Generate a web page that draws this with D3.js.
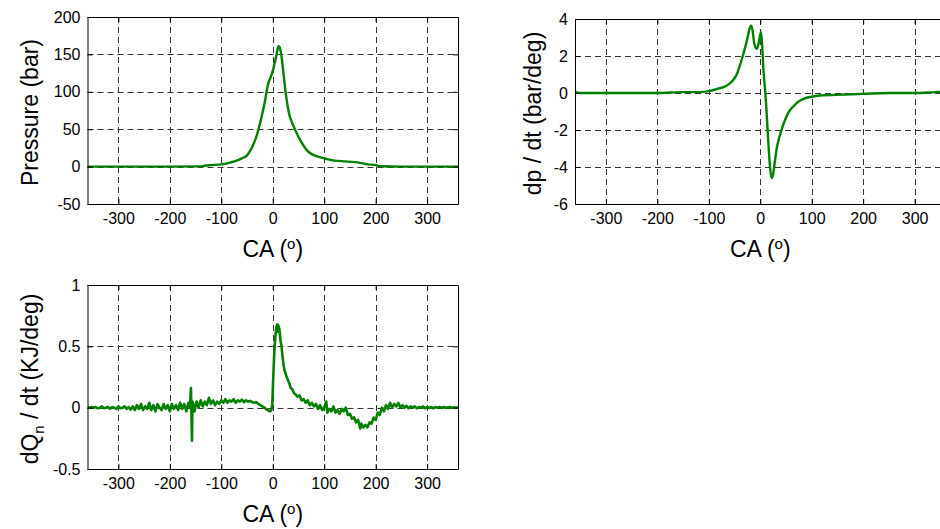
<!DOCTYPE html>
<html>
<head>
<meta charset="utf-8">
<script src="https://cdn.jsdelivr.net/npm/d3@7"></script>
<style>
  body { margin: 0; background: #fff; }
  svg { display: block; font-family: "Liberation Sans", Arial, sans-serif; }
</style>
</head>
<body>
<svg id="chart" width="940" height="529"></svg>
<script>
// crank angle ticks shared by all three panels
var caTicks = [-300, -200, -100, 0, 100, 200, 300];

// pressure trace (bar)
var caP = [-360, -300, -200, -140, -130, -120, -100, -90, -80, -70, -60, -50, -44, -40, -35, -30, -28, -25, -20, -15, -12, -8, -5, 0, 5, 8, 11, 13, 16, 20, 24, 28, 32, 38, 43, 50, 58, 66, 75, 85, 95, 105, 120, 140, 160, 170, 185, 200, 205, 210, 250, 300, 360];
var pressure = [0, 0, 0, 0.3, 1.5, 2, 3, 4, 6, 8, 11, 15, 21, 26, 34, 44, 49, 57, 72, 88, 100, 113, 118, 128, 142, 152, 161, 160, 152, 130, 105, 85, 70, 58, 50, 40, 30, 22, 17, 14, 12, 10, 8, 7, 6, 5, 3, 2, 1, 0.5, 0, 0, 0];
var pTicks = [-50, 0, 50, 100, 150, 200];

// pressure rise rate (bar/deg)
var caDp = [-360, -355, -350, -300, -200, -150, -120, -100, -80, -70, -60, -50, -47, -40, -34, -28, -24.6, -21, -18, -15, -12, -7, -3, 1.3, 3, 6, 11, 15.5, 19, 22, 25, 28, 32, 38, 45, 55, 65, 75, 85, 100, 120, 147, 199, 250, 300, 341, 350, 360];
var dpdt = [0.1, 0.02, 0, 0, 0, 0.05, 0.05, 0.1, 0.25, 0.33, 0.49, 0.8, 0.93, 1.45, 2.0, 2.6, 3.0, 3.45, 3.64, 3.4, 2.75, 2.38, 2.7, 3.28, 2.9, 1.38, -0.42, -2.58, -4.0, -4.6, -4.4, -3.8, -3.0, -2.3, -1.7, -1.05, -0.7, -0.45, -0.3, -0.2, -0.12, -0.1, -0.05, 0, 0, 0.05, 0.06, 0.1];
var dpTicks = [-6, -4, -2, 0, 2, 4];

// net heat release rate (KJ/deg)
var caQ = [-360, -356, -352, -348, -344, -340, -336, -332, -328, -324, -320, -316, -312, -308, -304, -300, -296, -292, -288, -284, -280, -276, -272, -268, -264, -260, -256, -252, -248, -244, -240, -236, -232, -228, -224, -220, -216, -212, -208, -204, -200, -196, -192, -188, -184, -180, -176, -172, -168, -164, -161, -159, -158, -157, -156, -154, -152, -148, -144, -140, -136, -132, -128, -124, -120, -116, -112, -108, -104, -100, -96, -92, -88, -84, -80, -76, -72, -68, -64, -60, -56, -52, -48, -44, -40, -36, -32, -28, -24, -20, -16, -12, -8, -5, -3, -1, 1, 3, 5, 7, 9, 10, 11, 13, 15, 17, 19, 21, 23, 25, 27, 29, 32, 35, 38, 41, 44, 48, 52, 56, 60, 64, 68, 72, 76, 80, 84, 88, 92, 96, 100, 104, 106, 110, 114, 118, 122, 126, 130, 134, 138, 142, 146, 150, 154, 158, 162, 166, 170, 172, 176, 180, 184, 188, 192, 196, 200, 204, 208, 212, 216, 220, 224, 228, 232, 236, 240, 244, 248, 252, 256, 260, 264, 268, 272, 276, 280, 284, 288, 292, 296, 300, 304, 308, 312, 316, 320, 324, 328, 332, 336, 340, 344, 348, 352, 356, 360];
var dQ = [0, 0, 0.005, 0, 0.005, -0.005, 0, 0.01, -0.005, 0, 0.005, -0.01, 0.005, 0, -0.01, 0.01, -0.005, 0, 0.01, -0.01, 0.005, -0.015, 0.01, -0.02, 0.02, -0.01, 0.03, -0.02, 0.01, -0.01, 0.04, -0.02, 0.02, -0.03, 0.03, 0, -0.02, 0.03, -0.01, 0.02, -0.03, 0.03, -0.01, 0.02, -0.02, 0.04, -0.01, 0.03, -0.03, 0.04, 0, 0.16, -0.05, -0.27, 0.05, 0.02, -0.03, 0.05, 0, 0.06, 0.01, 0.05, 0.02, 0.08, 0.03, 0.06, 0.02, 0.05, 0.03, 0.06, 0.04, 0.07, 0.04, 0.06, 0.05, 0.07, 0.04, 0.06, 0.05, 0.065, 0.045, 0.06, 0.05, 0.055, 0.045, 0.04, 0.045, 0.03, 0.02, 0.01, 0, -0.015, -0.025, -0.03, -0.02, 0.02, 0.25, 0.45, 0.58, 0.66, 0.68, 0.62, 0.67, 0.64, 0.55, 0.5, 0.42, 0.35, 0.3, 0.28, 0.25, 0.23, 0.2, 0.16, 0.15, 0.12, 0.11, 0.09, 0.1, 0.06, 0.07, 0.04, 0.06, 0.02, 0.04, 0.01, 0.03, -0.01, 0.02, -0.02, 0, 0.05, -0.04, -0.01, -0.03, 0.01, -0.04, -0.02, -0.05, -0.01, -0.03, 0, -0.06, -0.05, -0.09, -0.08, -0.12, -0.1, -0.17, -0.13, -0.16, -0.14, -0.16, -0.12, -0.13, -0.08, -0.1, -0.04, -0.06, 0, -0.03, 0.02, -0.01, 0.04, 0, 0.03, 0.01, 0.04, 0, 0.02, 0, 0.015, -0.005, 0.01, 0, 0.01, -0.005, 0.005, 0, 0.01, -0.005, 0.005, 0, 0.005, -0.005, 0.005, 0, 0.005, 0, 0.005, 0, 0, 0.005, 0, 0, 0, 0];
var dqTicks = [-0.5, 0, 0.5, 1];

var svg = d3.select("#chart");
var lineColor = "#008000";

svg.append("rect").attr("width", 940).attr("height", 529).attr("fill", "#fff");

/* draws one MATLAB-like panel */
function panel(opt) {
	var x = d3.scaleLinear().domain([-360, 360]).range([opt.left, opt.right]);
	var y = d3.scaleLinear().domain(opt.ydom).range([opt.bottom, opt.top]);
	var g = svg.append("g");
	var fmt = function(d) { return String(d); };   // plain hyphen, no trailing .0

	// clip so the trace stays in the box
	var cid = "clip" + opt.id;
	g.append("clipPath").attr("id", cid)
	  .append("rect")
	  .attr("x", opt.left).attr("y", opt.top)
	  .attr("width", opt.right - opt.left).attr("height", opt.bottom - opt.top);

	// dashed grid
	g.selectAll(".gx").data(caTicks).enter().append("line")
	  .attr("x1", function(d) { return Math.round(x(d)) + 0.5; })
	  .attr("x2", function(d) { return Math.round(x(d)) + 0.5; })
	  .attr("y1", opt.top).attr("y2", opt.bottom)
	  .attr("stroke", "#333").attr("stroke-dasharray", "6,4");
	g.selectAll(".gy").data(opt.yticks).enter().append("line")
	  .attr("y1", function(d) { return Math.round(y(d)) + 0.5; })
	  .attr("y2", function(d) { return Math.round(y(d)) + 0.5; })
	  .attr("x1", opt.left).attr("x2", opt.right)
	  .attr("stroke", "#333").attr("stroke-dasharray", "6,4");

	// trace
	var line = d3.line()
	  .x(function(d) { return x(d[0]); })
	  .y(function(d) { return y(d[1]); })
	  .curve(opt.curve);
	g.append("path")
	  .datum(d3.zip(opt.xs, opt.ys))
	  .attr("clip-path", "url(#" + cid + ")")
	  .attr("d", line)
	  .attr("fill", "none")
	  .attr("stroke", lineColor)
	  .attr("stroke-width", opt.lw)
	  .attr("stroke-linejoin", "round");

	// axes with inward ticks, mirrored on top/right
	var bottom = d3.axisBottom(x).tickValues(caTicks).tickFormat(fmt).tickSizeInner(-5).tickSizeOuter(0).tickPadding(9);
	var top = d3.axisTop(x).tickValues(caTicks).tickSizeInner(-5).tickSizeOuter(0).tickFormat("");
	var left = d3.axisLeft(y).tickValues(opt.yticks).tickFormat(fmt).tickSizeInner(-5).tickSizeOuter(0).tickPadding(7);
	var right = d3.axisRight(y).tickValues(opt.yticks).tickSizeInner(-5).tickSizeOuter(0).tickFormat("");

	g.append("g").attr("transform", "translate(0," + opt.bottom + ")").call(bottom);
	g.append("g").attr("transform", "translate(0," + opt.top + ")").call(top);
	g.append("g").attr("transform", "translate(" + opt.left + ",0)").call(left);
	g.append("g").attr("transform", "translate(" + opt.right + ",0)").call(right);

	g.selectAll(".tick text")
	  .attr("font-size", 16)
	  .attr("font-family", "Liberation Sans, Arial, sans-serif")
	  .attr("fill", "#000");
	g.selectAll(".domain").attr("stroke", "#000");
	g.selectAll(".tick line").attr("stroke", "#000");

	// x label
	var xl = g.append("text")
	  .attr("x", (opt.left + opt.right) / 2)
	  .attr("y", opt.bottom + 53)
	  .attr("text-anchor", "middle")
	  .attr("font-size", 23);
	xl.append("tspan").text("CA (");
	xl.append("tspan").attr("font-size", 15).attr("dy", -8).text("o");
	xl.append("tspan").attr("dy", 8).text(")");

	// y label
	var yl = g.append("text")
	  .attr("transform", "translate(" + opt.ylx + "," + ((opt.top + opt.bottom) / 2 + 2) + ") rotate(-90)")
	  .attr("text-anchor", "middle")
	  .attr("font-size", 23);
	opt.ylabel(yl);
}

panel({
	id: 1, left: 87.5, right: 458, top: 17, bottom: 204,
	ydom: [-50, 200], yticks: pTicks,
	xs: caP, ys: pressure, lw: 2.4, curve: d3.curveMonotoneX, ylx: 38,
	ylabel: function(t) { t.text("Pressure (bar)"); }
});

panel({
	id: 2, left: 575, right: 945.5, top: 19, bottom: 204,
	ydom: [-6, 4], yticks: dpTicks,
	xs: caDp, ys: dpdt, lw: 2.4, curve: d3.curveMonotoneX, ylx: 541,
	ylabel: function(t) { t.text("dp / dt (bar/deg)"); }
});

panel({
	id: 3, left: 87.5, right: 458, top: 285, bottom: 469,
	ydom: [-0.5, 1], yticks: dqTicks,
	xs: caQ, ys: dQ, lw: 2.6, curve: d3.curveLinear, ylx: 38,
	ylabel: function(t) {
		t.append("tspan").text("dQ");
		t.append("tspan").attr("font-size", 15).attr("dy", 6).text("n");
		t.append("tspan").attr("dy", -6).text(" / dt (KJ/deg)");
	}
});
</script>
</body>
</html>
